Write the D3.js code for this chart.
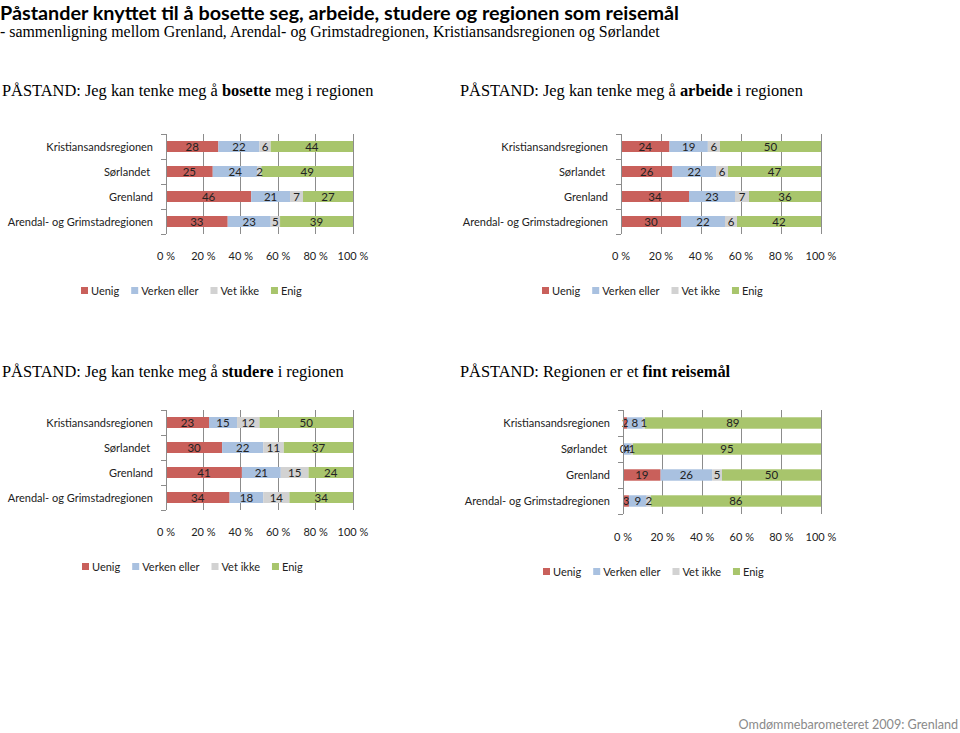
<!DOCTYPE html>
<html><head><meta charset="utf-8">
<script src="https://cdn.jsdelivr.net/npm/d3@7"></script>
<style>
body{margin:0;background:#fff;}
svg{display:block;}
</style></head>
<body>
<svg id="c" width="960" height="733"></svg>
<script>
// ---- data ----
const categories = ["Kristiansandsregionen", "Sørlandet ", "Grenland", "Arendal- og Grimstadregionen"];
const seriesNames = ["Uenig", "Verken eller", "Vet ikke", "Enig"];
const tickLabels = ["0 %", "20 %", "40 %", "60 %", "80 %", "100 %"];
const tickValues = [0, 0.2, 0.4, 0.6, 0.8, 1];

// PÅSTAND: bosette
const bosetteUenig  = [28, 25, 46, 33];
const bosetteVerken = [22, 24, 21, 23];
const bosetteVetIkke = [6, 2, 7, 5];
const bosetteEnig   = [44, 49, 27, 39];
// PÅSTAND: arbeide
const arbeideUenig  = [24, 26, 34, 30];
const arbeideVerken = [19, 22, 23, 22];
const arbeideVetIkke = [6, 6, 7, 6];
const arbeideEnig   = [50, 47, 36, 42];
// PÅSTAND: studere
const studereUenig  = [23, 30, 41, 34];
const studereVerken = [15, 22, 21, 18];
const studereVetIkke = [12, 11, 15, 14];
const studereEnig   = [50, 37, 24, 34];
// PÅSTAND: reisemål
const reiseUenig  = [2, 0, 19, 3];
const reiseVerken = [8, 4, 26, 9];
const reiseVetIkke = [1, 1, 5, 2];
const reiseEnig   = [89, 95, 50, 86];

const headings = [
  ["PÅSTAND: Jeg kan tenke meg å ", "bosette", " meg i regionen"],
  ["PÅSTAND: Jeg kan tenke meg å ", "arbeide", " i regionen"],
  ["PÅSTAND: Jeg kan tenke meg å ", "studere", " i regionen"],
  ["PÅSTAND: Regionen er et ", "fint reisemål", ""]
];

// ---- styles / layout ----
const colors = ["#C9605B", "#A9C1E0", "#D2D2D2", "#A8C56C"];
const sansFont = "Lato, 'Open Sans', sans-serif";
const serifFont = "'Liberation Serif', 'DejaVu Serif', serif";
const smallSize = "11px";

const panels = [
  {series:[bosetteUenig,bosetteVerken,bosetteVetIkke,bosetteEnig], x0:166, x1:353, top:134, bottom:234, axisY:260, legX:81, legY:291, hx:2, hy:96},
  {series:[arbeideUenig,arbeideVerken,arbeideVetIkke,arbeideEnig], x0:621, x1:821, top:134, bottom:234, axisY:260, legX:542, legY:291, hx:460, hy:96},
  {series:[studereUenig,studereVerken,studereVetIkke,studereEnig], x0:166, x1:353, top:410, bottom:510, axisY:536, legX:82, legY:567, hx:2, hy:377},
  {series:[reiseUenig,reiseVerken,reiseVetIkke,reiseEnig], x0:623, x1:821, top:410, bottom:514, axisY:541, legX:543, legY:572, hx:460, hy:377}
];

const svg = d3.select("#c");

// title
svg.append("text").attr("x", 0).attr("y", 20)
  .style("font-family", sansFont).style("font-weight", "bold").style("font-size", "19.8px").attr("fill", "#000")
  .text("Påstander knyttet til å bosette seg, arbeide, studere og regionen som reisemål");
svg.append("text").attr("x", 0).attr("y", 37)
  .style("font-family", serifFont).style("font-size", "15.9px").attr("fill", "#000")
  .text("- sammenligning mellom Grenland, Arendal- og Grimstadregionen, Kristiansandsregionen og Sørlandet");

panels.forEach((p, pi) => {
  const g = svg.append("g");
  // heading
  const h = g.append("text").attr("x", p.hx).attr("y", p.hy)
    .style("font-family", serifFont).style("font-size", "16.4px").attr("fill", "#000");
  h.append("tspan").text(headings[pi][0]);
  h.append("tspan").style("font-weight", "bold").text(headings[pi][1]);
  h.append("tspan").text(headings[pi][2]);

  const y = d3.scaleBand().domain(categories).range([p.top, p.bottom]).paddingInner(0.56).paddingOuter(0.28);
  const x = d3.scaleLinear().domain([0, 1]).range([p.x0, p.x1]);

  // gridlines
  g.selectAll(".grid").data(tickValues.slice(1)).join("line")
    .attr("x1", d => x(d)).attr("x2", d => x(d))
    .attr("y1", p.top).attr("y2", p.bottom)
    .attr("stroke", "#8c8c8c").attr("stroke-width", 1).attr("shape-rendering", "crispEdges");

  // stacked normalized data (100 % stacked)
  const rows = categories.map((c, i) => {
    const vals = p.series.map(s => s[i]);
    const total = d3.sum(vals);
    let acc = 0;
    return vals.map((v, si) => {
      const seg = {cat: c, si, v, s: acc / total, e: (acc + v) / total};
      acc += v;
      return seg;
    });
  }).flat();

  g.selectAll(".bar").data(rows).join("rect")
    .attr("x", d => x(d.s)).attr("width", d => x(d.e) - x(d.s))
    .attr("y", d => y(d.cat)).attr("height", y.bandwidth())
    .attr("fill", d => colors[d.si]);

  g.selectAll(".lbl").data(rows).join("text")
    .attr("x", d => (x(d.s) + x(d.e)) / 2)
    .attr("y", d => y(d.cat) + y.bandwidth() / 2 + 4)
    .attr("text-anchor", "middle")
    .style("font-family", sansFont).style("font-size", "11.5px").attr("fill", "#222")
    .text(d => d.v);

  // left axis with ticks at band boundaries
  const edges = d3.range(categories.length + 1).map(i => p.top + i * (p.bottom - p.top) / categories.length);
  g.append("line").attr("x1", p.x0).attr("x2", p.x0).attr("y1", p.top).attr("y2", p.bottom)
    .attr("stroke", "#8c8c8c").attr("shape-rendering", "crispEdges");
  g.selectAll(".ytick").data(edges).join("line")
    .attr("x1", p.x0 - 5).attr("x2", p.x0).attr("y1", d => d).attr("y2", d => d)
    .attr("stroke", "#8c8c8c").attr("shape-rendering", "crispEdges");

  // category labels
  g.selectAll(".cat").data(categories).join("text")
    .attr("x", p.x0 - 13).attr("y", d => y(d) + y.bandwidth() / 2 + 4)
    .attr("text-anchor", "end").attr("xml:space", "preserve")
    .style("font-family", sansFont).style("font-size", smallSize).attr("fill", "#222")
    .style("white-space", "pre")
    .text(d => d);

  // x tick labels
  g.selectAll(".xt").data(tickValues).join("text")
    .attr("x", d => x(d)).attr("y", p.axisY).attr("text-anchor", "middle")
    .style("font-family", sansFont).style("font-size", smallSize).attr("fill", "#222")
    .text((d, i) => tickLabels[i]);

  // legend
  let lx = p.legX;
  seriesNames.forEach((n, i) => {
    g.append("rect").attr("x", lx).attr("y", p.legY - 4).attr("width", 7).attr("height", 7).attr("fill", colors[i]);
    const t = g.append("text").attr("x", lx + 10).attr("y", p.legY + 4)
      .style("font-family", sansFont).style("font-size", smallSize).attr("fill", "#222").text(n);
    lx += 10 + t.node().getComputedTextLength() + 12;
  });
});

// footer
svg.append("text").attr("x", 958).attr("y", 729).attr("text-anchor", "end")
  .style("font-family", sansFont).style("font-size", "12.6px").attr("fill", "#8a8a8a")
  .text("Omdømmebarometeret 2009: Grenland");
</script>
</body></html>
